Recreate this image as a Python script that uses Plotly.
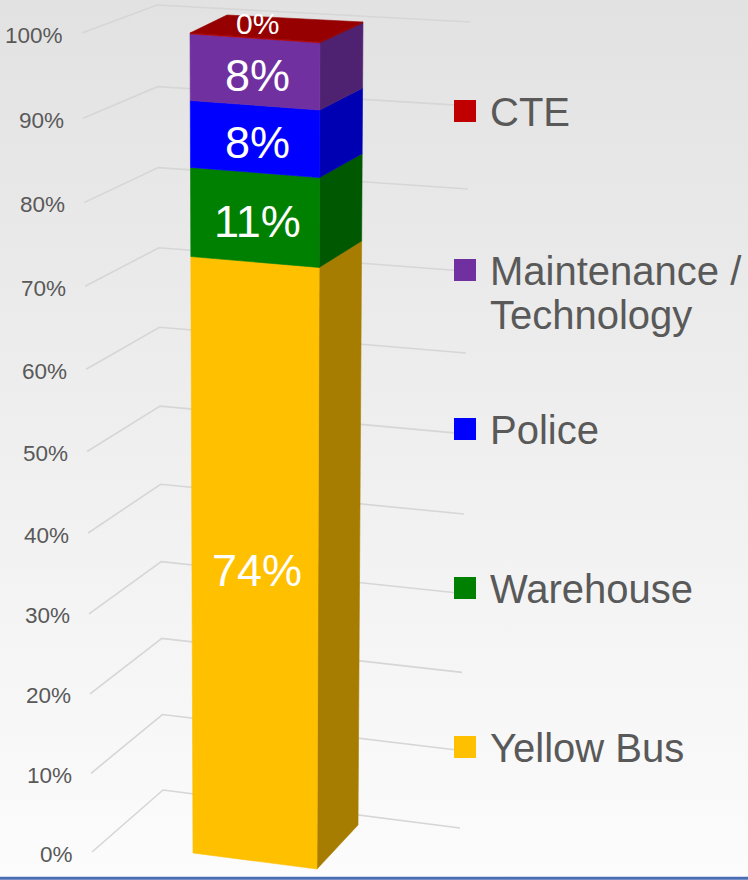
import base64
import plotly.graph_objects as go

# ---------------- data ----------------
categories = ["Yellow Bus", "Warehouse", "Police", "Maintenance / Technology", "CTE"]
shares = [73.6, 10.6, 7.9, 7.8, 0.1]          # percent of total, bottom -> top
front_colors = ["#FFC000", "#008000", "#0000FF", "#7030A0", "#C00000"]
side_colors = ["#A67D00", "#005800", "#0000B3", "#4E2270", "#860000"]
top_colors = ["#C79600", "#006400", "#0000C8", "#5A2880", "#960000"]
legend_order = ["CTE", "Maintenance / Technology", "Police", "Warehouse", "Yellow Bus"]
legend_lines = {"Maintenance / Technology": ["Maintenance /", "Technology"]}
tick_values = [0, 10, 20, 30, 40, 50, 60, 70, 80, 90, 100]
tick_labels = ["0%", "10%", "20%", "30%", "40%", "50%", "60%", "70%", "80%", "90%", "100%"]

# ---------------- 3-D look (layout / camera) ----------------
W, H = 748, 880
PERSP = -0.043  # perspective foreshortening along the value direction

# vertical edges: (bottom point, top point) in screen units
AXIS_EDGE = ((92, 852), (82, 33))
CORNER_EDGE = ((163, 790), (157, 5))
WALL_END = ((460, 828), (470, 22))
BAR_FL = ((193, 853), (190, 33))
BAR_FR = ((317, 869), (320, 42))
BAR_BR = ((358, 825), (363, 22))
BAR_BL = ((229, 810), (227, 15))


def s(t):
    return t * (1 + PERSP) / (1 + PERSP * t)


def on_edge(edge, t):
    (x0, y0), (x1, y1) = edge
    k = s(t)
    return (x0 + (x1 - x0) * k, y0 + (y1 - y0) * k)


fig = go.Figure()

# gridlines (left wall + back wall)
gx, gy = [], []
for v in tick_values:
    t = v / 100
    for p in (on_edge(AXIS_EDGE, t), on_edge(CORNER_EDGE, t), on_edge(WALL_END, t)):
        gx.append(p[0]); gy.append(p[1])
    gx.append(None); gy.append(None)
fig.add_trace(go.Scatter(x=gx, y=gy, mode="lines", line=dict(color="#D6D6D6", width=1.6),
                         hoverinfo="skip", showlegend=False))

# stacked 3-D bar
total = sum(shares)
cum = 0.0
annotations = []
for i, (cat, v) in enumerate(zip(categories, shares)):
    t0 = cum / total
    cum += v
    t1 = cum / total
    # side face
    pts = [on_edge(BAR_FR, t0), on_edge(BAR_BR, t0), on_edge(BAR_BR, t1), on_edge(BAR_FR, t1)]
    fig.add_trace(go.Scatter(x=[p[0] for p in pts] + [pts[0][0]], y=[p[1] for p in pts] + [pts[0][1]],
                             fill="toself", fillcolor=side_colors[i], mode="lines",
                             line=dict(color=side_colors[i], width=0.6),
                             hoverinfo="skip", showlegend=False))
    # front face
    pts = [on_edge(BAR_FL, t0), on_edge(BAR_FR, t0), on_edge(BAR_FR, t1), on_edge(BAR_FL, t1)]
    fig.add_trace(go.Scatter(x=[p[0] for p in pts] + [pts[0][0]], y=[p[1] for p in pts] + [pts[0][1]],
                             fill="toself", fillcolor=front_colors[i], mode="lines",
                             line=dict(color=front_colors[i], width=0.6),
                             name=cat, hoverinfo="name", showlegend=False))
    # top face of the top-most segment
    if i == len(categories) - 1:
        pts = [on_edge(BAR_FL, t1), on_edge(BAR_FR, t1), on_edge(BAR_BR, t1), on_edge(BAR_BL, t1)]
        fig.add_trace(go.Scatter(x=[p[0] for p in pts] + [pts[0][0]], y=[p[1] for p in pts] + [pts[0][1]],
                                 fill="toself", fillcolor=top_colors[i], mode="lines",
                                 line=dict(color=top_colors[i], width=0.6),
                                 hoverinfo="skip", showlegend=False))
    # data label
    tm = (t0 + t1) / 2
    a, b = on_edge(BAR_FL, tm), on_edge(BAR_FR, tm)
    thin = v < 2
    annotations.append(dict(x=(a[0] + b[0]) / 2 + 2, y=(a[1] + b[1]) / 2 + (-14 if thin else 4),
                            text=f"{round(v)}%", showarrow=False, xanchor="center", yanchor="middle",
                            font=dict(family="Liberation Sans, Arial, sans-serif",
                                      size=30 if thin else 45, color="white")))

# value axis labels
for v, lab in zip(tick_values, tick_labels):
    p = on_edge(AXIS_EDGE, v / 100)
    annotations.append(dict(x=p[0] - 17, y=p[1] + 2, text=lab, showarrow=False,
                            xanchor="right", yanchor="middle",
                            font=dict(family="Liberation Sans, Arial, sans-serif", size=22.5, color="#595959")))

# legend
LEG_X, LEG_Y0, LEG_DY = 465, 111, 159
cmap = dict(zip(categories, front_colors))
fig.add_trace(go.Scatter(x=[LEG_X] * len(legend_order),
                         y=[LEG_Y0 + k * LEG_DY for k in range(len(legend_order))],
                         mode="markers", marker=dict(symbol="square", size=22,
                                                     color=[cmap[c] for c in legend_order]),
                         hoverinfo="skip", showlegend=False))
for k, c in enumerate(legend_order):
    for j, line in enumerate(legend_lines.get(c, [c])):
        annotations.append(dict(x=LEG_X + 23, y=LEG_Y0 + k * LEG_DY + j * 44 + 1, text=line,
                                showarrow=False, xanchor="left", yanchor="middle",
                                font=dict(family="Liberation Sans, Arial, sans-serif", size=40,
                                          color="#595959")))

svg = (f"<svg xmlns='http://www.w3.org/2000/svg' width='{W}' height='{H}' preserveAspectRatio='none'>"
       "<defs><linearGradient id='g' x1='0' y1='0' x2='0' y2='1'>"
       "<stop offset='0' stop-color='#E2E2E2'/><stop offset='1' stop-color='#FCFCFC'/>"
       "</linearGradient></defs>"
       f"<rect width='{W}' height='{H}' fill='url(#g)'/></svg>")
uri = "data:image/svg+xml;base64," + base64.b64encode(svg.encode()).decode()

fig.update_layout(
    width=W, height=H, margin=dict(l=0, r=0, t=0, b=0),
    paper_bgcolor="white", plot_bgcolor="rgba(0,0,0,0)",
    xaxis=dict(range=[0, W], visible=False, fixedrange=True),
    yaxis=dict(range=[H, 0], visible=False, fixedrange=True),
    images=[dict(source=uri, xref="paper", yref="paper", x=0, y=1, sizex=1, sizey=1,
                 xanchor="left", yanchor="top", sizing="stretch", layer="below")],
    shapes=[dict(type="line", xref="paper", yref="paper", x0=0, x1=1, y0=0.002, y1=0.002,
                 line=dict(color="#4A6DB3", width=3))],
    annotations=annotations,
    showlegend=False,
)

fig.write_html("out.html", config={"displayModeBar": False},
               post_script="document.body.style.margin='0';document.body.style.overflow='hidden';")
